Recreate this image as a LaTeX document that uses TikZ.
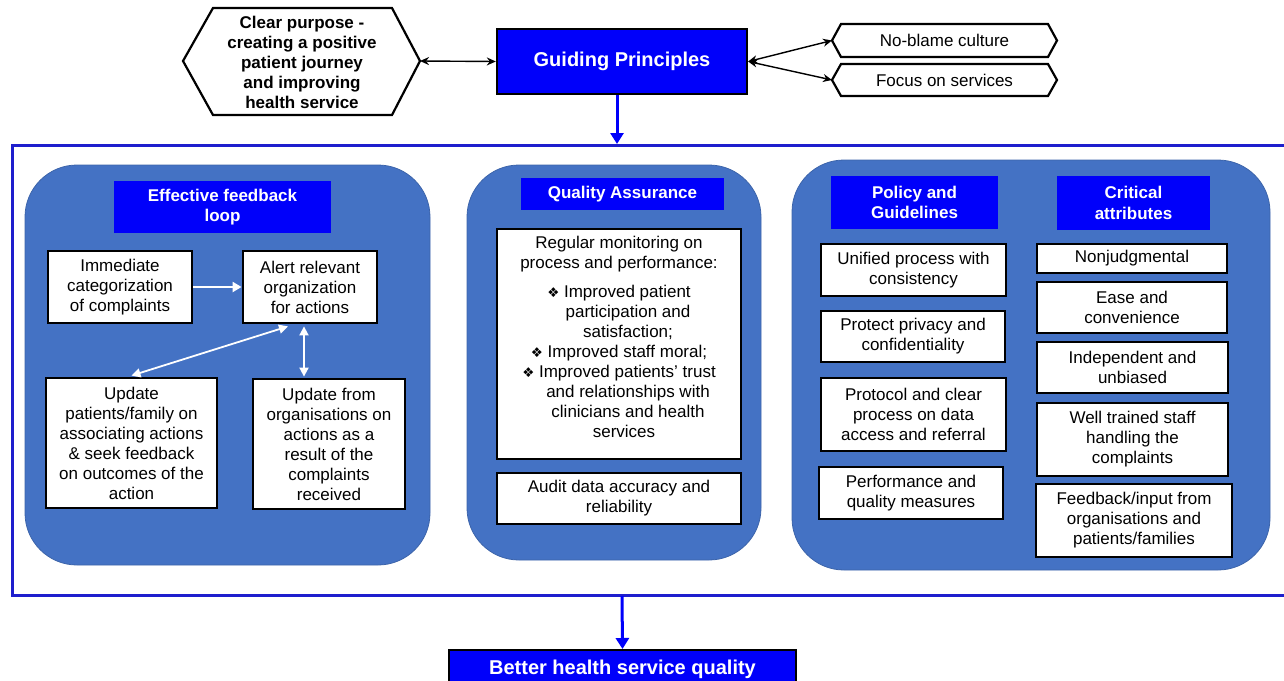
\documentclass[tikz,border=0pt]{standalone}
\usepackage{fontspec}
\setmainfont{Liberation Sans}
\newfontfamily\dej{DejaVu Sans}
\usetikzlibrary{arrows.meta}
\definecolor{panelblue}{RGB}{68,114,196}
\definecolor{paneledge}{RGB}{60,100,170}
\definecolor{headblue}{RGB}{0,0,250}
\definecolor{framecol}{RGB}{30,30,205}
\newcommand{\dia}{{\dej\fontsize{13.5}{20}\selectfont ❖}}
\begin{document}
\begin{tikzpicture}[x=1pt,y=-1pt,
  every node/.style={font=\fontsize{17}{20}\selectfont, inner sep=0pt, align=center},
  wbox/.style={draw=black, line width=2.8pt, fill=white, text=black},
  hbox/.style={fill=headblue, text=white, font=\fontsize{17}{20.5}\selectfont\bfseries},
  panel/.style={fill=panelblue, draw=paneledge, line width=0.8pt, rounded corners=52pt},
  bigbox/.style={fill=headblue, draw=black, line width=2.4pt, text=white, font=\fontsize{20}{24}\selectfont\bfseries},
  hexline/.style={draw=black, line width=2.2pt, fill=white},
  karrow/.style={black, line width=1.4pt, {Stealth[length=9pt,width=8pt]}-{Stealth[length=9pt,width=8pt]}},
  warrow/.style={white, line width=2.2pt, -{Triangle[length=9pt,width=10pt]}},
  wdarrow/.style={white, line width=1.8pt, {Triangle[length=9pt,width=9pt]}-{Triangle[length=9pt,width=9pt]}},
  barrow/.style={headblue, line width=3pt, -{Triangle[length=11pt,width=13pt]}},
]
\useasboundingbox (0,0) rectangle (1284,680);

% ---------- top row ----------
\draw[hexline] (183,61) -- (213,8) -- (392,8) -- (420,61) -- (392,115) -- (213,115) -- cycle;
\coordinate (clearR) at (420,61);
\node[font=\fontsize{17}{20}\selectfont\bfseries] (clear) at (302,62)
  {Clear purpose -\\creating a positive\\patient journey\\and improving\\health service};

\node[bigbox, minimum width=250, minimum height=65] (gp) at (622,61.5) {Guiding Principles};

\draw[hexline] (832,40.5) -- (841,24) -- (1048,24) -- (1057,40.5) -- (1048,57) -- (841,57) -- cycle;
\coordinate (nbL) at (832,40.5);
\node (nb) at (944.5,40.5) {No-blame culture};
\draw[hexline] (832,80) -- (841,64) -- (1048,64) -- (1057,80) -- (1048,96) -- (841,96) -- cycle;
\coordinate (foL) at (832,80);
\node (fo) at (944.5,80) {Focus on services};

\draw[karrow] (clearR) -- (gp.west);
\draw[karrow] (gp.east) -- (nbL);
\draw[karrow] (gp.east) -- (foL);

% ---------- frame ----------
\draw[framecol, line width=3pt] (1284,145) -- (12,145) -- (12,595) -- (1284,595);
\coordinate (frameTop) at (617,144);
\coordinate (frameBot) at (622,596);
\draw[barrow] ([xshift=-5pt]gp.south) -- (frameTop);

% ---------- panel 1 ----------
\draw[panel] (25,165) rectangle (430,565);
\node[hbox, minimum width=217, minimum height=52] (h1) at (222.5,207) {Effective feedback\\loop};
\node[wbox, minimum width=144, minimum height=72] (b1) at (120,287) {Immediate\\categorization\\of complaints};
\node[wbox, minimum width=134, minimum height=72] (b2) at (310,287) {Alert relevant\\organization\\for actions};
\node[wbox, minimum width=171, minimum height=130] (b3) at (131.5,443) {Update\\patients/family on\\associating actions\\\& seek feedback\\on outcomes of the\\action};
\node[wbox, minimum width=152, minimum height=130] (b4) at (329,444) {Update from\\organisations on\\actions as a\\result of the\\complaints\\received};
\draw[warrow] (b1.east) -- (b2.west);
\draw[wdarrow] ([xshift=-22pt,yshift=-2pt]b2.south) -- ([yshift=1pt]b3.north);
\draw[wdarrow] ([xshift=-6pt,yshift=-2pt]b2.south) -- ([xshift=-25pt,yshift=1pt]b4.north);

% ---------- panel 2 ----------
\draw[panel] (467,165) rectangle (761,560);
\node[hbox, minimum width=203, minimum height=32] (h2) at (622.5,194) {Quality Assurance};
\node[wbox, minimum width=244, minimum height=230] (q1) at (619,344)
  {Regular monitoring on\\process and performance:\\[9pt]
   \dia{} Improved patient\\
   \hspace*{18pt}participation and\\
   \hspace*{18pt}satisfaction;\\
   \dia{} Improved staff moral;\\
   \dia{} Improved patients’ trust\\
   \hspace*{18pt}and relationships with\\
   \hspace*{18pt}clinicians and health\\
   \hspace*{10pt}services\\[-6pt]\mbox{}};
\node[wbox, minimum width=244, minimum height=51] (q2) at (619,498.5) {Audit data accuracy and\\reliability};

% ---------- panel 3 ----------
\draw[panel] (792,160) rectangle (1270,570);
\node[hbox, minimum width=167, minimum height=53] (h3) at (914.5,202.5) {Policy and\\Guidelines};
\node[hbox, minimum width=153, minimum height=54] (h4) at (1133.5,203) {Critical\\attributes};

\node[wbox, minimum width=185, minimum height=52] (l1) at (913.5,270) {Unified process with\\consistency};
\node[wbox, minimum width=184, minimum height=51] (l2) at (913,336.5) {Protect privacy and\\confidentiality};
\node[wbox, minimum width=185, minimum height=73] (l3) at (913.5,414.5) {Protocol and clear\\process on data\\access and referral};
\node[wbox, minimum width=184, minimum height=52] (l4) at (911,493) {Performance and\\quality measures};

\node[wbox, minimum width=190, minimum height=29] (r1) at (1132,258.5) {Nonjudgmental};
\node[wbox, minimum width=190, minimum height=51] (r2) at (1132,307.5) {Ease and\\convenience};
\node[wbox, minimum width=191, minimum height=51] (r3) at (1132.5,367.5) {Independent and\\unbiased};
\node[wbox, minimum width=191, minimum height=73] (r4) at (1132.5,439.5) {Well trained staff\\handling the\\complaints};
\node[wbox, minimum width=196, minimum height=73] (r5) at (1134,520.5) {Feedback/input from\\organisations and\\patients/families};

% ---------- bottom ----------
\node[bigbox, minimum width=347, minimum height=38, anchor=north] (better) at (622.5,649) {Better health service quality};
\draw[barrow] (frameBot) -- (better.north);
\end{tikzpicture}
\end{document}
